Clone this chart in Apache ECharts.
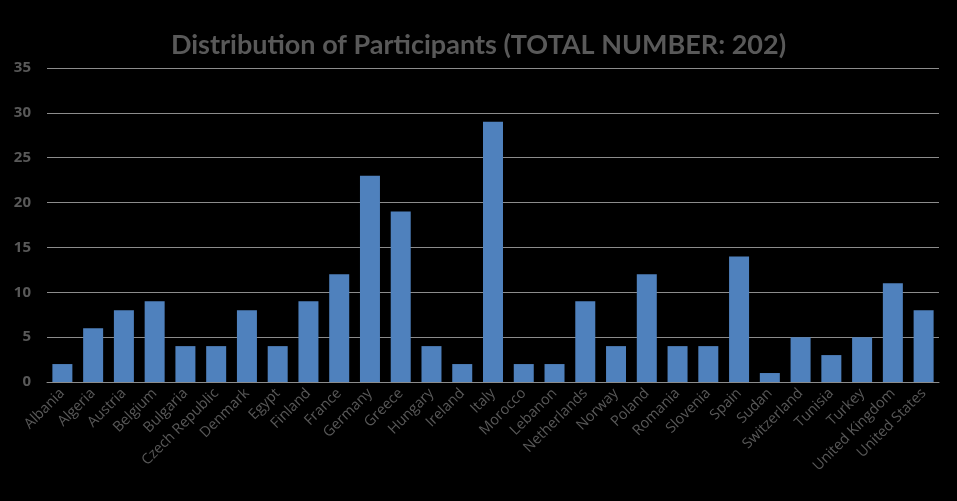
<!DOCTYPE html>
<html><head><meta charset="utf-8">
<script src="https://cdn.jsdelivr.net/npm/echarts@6/dist/echarts.min.js"></script>
<style>html,body{margin:0;padding:0;background:#000;}#c{width:957px;height:501px;}</style>
</head><body><div id="c"></div>
<script>
const categories = ["Albania","Algeria","Austria","Belgium","Bulgaria","Czech Republic","Denmark","Egypt","Finland","France","Germany","Greece","Hungary","Ireland","Italy","Morocco","Lebanon","Netherlands","Norway","Poland","Romania","Slovenia","Spain","Sudan","Switzerland","Tunisia","Turkey","United Kingdom","United States"];
const participants = [2,6,8,9,4,4,8,4,9,12,23,19,4,2,29,2,2,9,4,12,4,4,14,1,5,3,5,11,8];
const yTicks = {min:0, max:35, interval:5};
const titleText = "Distribution of Participants (TOTAL NUMBER: 202)";

const chart = echarts.init(document.getElementById('c'), null, {renderer:'canvas'});
chart.setOption({
  backgroundColor:'#000',
  animation:false,
  title:{text:titleText,left:'center',top:27,textStyle:{color:'#595959',fontFamily:'Lato',fontWeight:'bold',fontSize:27}},
  grid:{left:47,right:18,top:68,bottom:119,containLabel:false},
  xAxis:{type:'category',data:categories,
    axisLine:{lineStyle:{color:'#8c8c8c',width:1}},axisTick:{show:false},
    axisLabel:{rotate:45,interval:0,color:'#595959',fontFamily:'Open Sans',fontSize:14.5,margin:9}},
  yAxis:{type:'value',min:yTicks.min,max:yTicks.max,interval:yTicks.interval,
    axisLine:{show:false},axisTick:{show:false},
    splitLine:{lineStyle:{color:'#8c8c8c',width:1}},
    axisLabel:{color:'#595959',fontFamily:'Open Sans',fontWeight:'bold',fontSize:15,margin:16}},
  series:[{type:'bar',data:participants,barCategoryGap:'35%',itemStyle:{color:'#4f81bd'}}]
});
</script></body></html>
